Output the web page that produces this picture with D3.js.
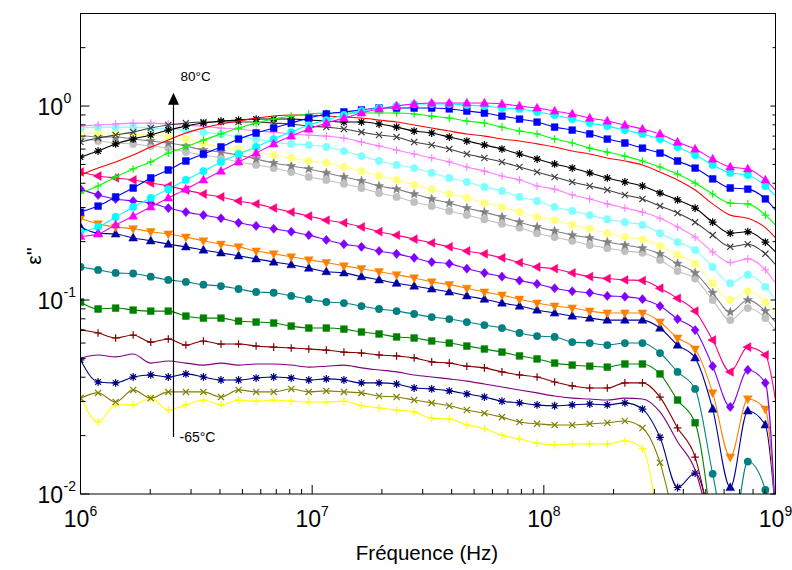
<!DOCTYPE html>
<html><head><meta charset="utf-8">
<script src="https://cdn.jsdelivr.net/npm/d3@7"></script>
<style>body{margin:0;background:#fff}svg{display:block}text{font-family:"Liberation Sans",Arial,sans-serif;fill:#000}</style>
</head><body><svg id="c" width="792" height="570"></svg>
<script>
// Frequencies in MHz (markers on the first 40 points, last point = 1 GHz)
const freqMHz = [1.000,1.191,1.418,1.688,2.010,2.393,2.850,3.393,4.040,4.811,5.728,6.821,8.121,9.670,11.51,13.71,16.32,19.44,23.14,27.56,32.81,39.07,46.52,55.39,65.96,78.52,93.50,111.3,132.6,157.8,187.9,223.8,266.5,317.3,377.8,449.8,535.6,637.7,759.3,904.1,1000];

const tMagenta = [0.213,0.219,0.244,0.271,0.302,0.336,0.373,0.416,0.462,0.515,0.572,0.638,0.700,0.761,0.817,0.867,0.921,0.966,1.000,1.024,1.036,1.036,1.036,1.036,1.024,1.000,0.977,0.943,0.910,0.867,0.837,0.798,0.761,0.718,0.652,0.600,0.533,0.485,0.474,0.416,0.369];
const tCyan = [0.225,0.238,0.268,0.302,0.336,0.373,0.416,0.462,0.515,0.566,0.615,0.676,0.734,0.798,0.847,0.899,0.943,0.977,1.000,1.024,1.024,1.024,1.012,1.000,0.977,0.966,0.932,0.899,0.857,0.817,0.788,0.752,0.718,0.676,0.615,0.559,0.497,0.452,0.441,0.387,0.344];
const tBlue = [0.284,0.305,0.340,0.378,0.426,0.468,0.521,0.566,0.615,0.676,0.726,0.770,0.817,0.867,0.910,0.932,0.954,0.977,0.977,0.977,0.977,0.966,0.943,0.921,0.888,0.857,0.827,0.779,0.752,0.718,0.676,0.645,0.607,0.572,0.521,0.479,0.421,0.378,0.373,0.332,0.291];
const tGreen = [0.356,0.387,0.431,0.474,0.515,0.572,0.615,0.668,0.718,0.770,0.817,0.857,0.888,0.910,0.921,0.921,0.921,0.921,0.921,0.910,0.888,0.867,0.837,0.817,0.779,0.743,0.718,0.676,0.645,0.607,0.579,0.552,0.521,0.485,0.446,0.401,0.352,0.316,0.313,0.274,0.244];
const tRed = [0.441,0.479,0.515,0.559,0.615,0.668,0.726,0.770,0.808,0.837,0.867,0.888,0.899,0.899,0.888,0.878,0.867,0.847,0.827,0.798,0.770,0.743,0.718,0.700,0.676,0.660,0.638,0.615,0.586,0.566,0.540,0.521,0.497,0.457,0.416,0.369,0.313,0.274,0.264,0.236,0.209];
const tBlack = [0.546,0.586,0.638,0.676,0.709,0.752,0.788,0.817,0.837,0.847,0.857,0.857,0.857,0.847,0.837,0.827,0.827,0.808,0.779,0.743,0.726,0.692,0.660,0.630,0.600,0.566,0.533,0.503,0.479,0.452,0.426,0.406,0.387,0.356,0.328,0.298,0.252,0.221,0.225,0.199,0.177];
const tDarkGray = [0.652,0.684,0.709,0.734,0.770,0.798,0.817,0.827,0.827,0.827,0.827,0.817,0.808,0.788,0.779,0.761,0.734,0.709,0.692,0.652,0.630,0.600,0.566,0.540,0.515,0.485,0.457,0.431,0.406,0.387,0.369,0.348,0.332,0.305,0.281,0.252,0.216,0.188,0.194,0.173,0.152];
const tPink = [0.788,0.798,0.808,0.817,0.817,0.808,0.798,0.788,0.770,0.761,0.743,0.734,0.718,0.709,0.700,0.684,0.652,0.622,0.593,0.566,0.540,0.515,0.485,0.462,0.436,0.416,0.387,0.373,0.348,0.332,0.313,0.298,0.284,0.264,0.238,0.211,0.177,0.156,0.163,0.143,0.122];
const tLightCyan = [0.770,0.779,0.779,0.779,0.770,0.761,0.752,0.734,0.718,0.692,0.676,0.652,0.638,0.630,0.615,0.586,0.552,0.521,0.497,0.479,0.452,0.426,0.406,0.383,0.365,0.340,0.324,0.302,0.288,0.274,0.261,0.252,0.244,0.221,0.199,0.181,0.148,0.122,0.135,0.117,0.100];
const tLightYellow = [0.718,0.726,0.726,0.718,0.709,0.692,0.676,0.645,0.615,0.600,0.579,0.559,0.540,0.521,0.509,0.485,0.462,0.436,0.416,0.392,0.373,0.352,0.336,0.316,0.302,0.284,0.268,0.258,0.244,0.233,0.221,0.211,0.206,0.190,0.171,0.154,0.122,0.100,0.111,0.0977,0.0837];
const tGray = [0.709,0.692,0.692,0.676,0.660,0.645,0.622,0.593,0.579,0.559,0.533,0.509,0.491,0.474,0.452,0.431,0.411,0.387,0.373,0.352,0.332,0.316,0.298,0.284,0.268,0.252,0.238,0.227,0.216,0.209,0.199,0.192,0.185,0.173,0.154,0.138,0.109,0.0867,0.100,0.0877,0.0770];
const tLightGray = [0.684,0.660,0.645,0.638,0.622,0.607,0.579,0.559,0.540,0.515,0.497,0.479,0.457,0.431,0.416,0.397,0.378,0.356,0.340,0.320,0.305,0.288,0.274,0.261,0.247,0.236,0.221,0.211,0.202,0.192,0.185,0.179,0.175,0.161,0.141,0.129,0.100,0.0788,0.0909,0.0807,0.0700];
const tDeepPink = [0.457,0.436,0.426,0.416,0.401,0.387,0.369,0.352,0.340,0.324,0.313,0.298,0.284,0.271,0.258,0.250,0.238,0.225,0.216,0.206,0.197,0.188,0.179,0.173,0.165,0.156,0.148,0.145,0.138,0.132,0.129,0.127,0.126,0.115,0.102,0.0877,0.0622,0.0426,0.0572,0.0521,0.0305];
const tViolet = [0.373,0.348,0.332,0.324,0.316,0.298,0.284,0.274,0.264,0.250,0.241,0.233,0.225,0.216,0.204,0.194,0.188,0.179,0.173,0.165,0.157,0.154,0.145,0.138,0.132,0.126,0.121,0.115,0.111,0.109,0.105,0.104,0.101,0.0931,0.0798,0.0700,0.0456,0.0281,0.0436,0.0374,0.008];
const tOrange = [0.264,0.247,0.238,0.233,0.225,0.219,0.211,0.202,0.194,0.188,0.179,0.173,0.167,0.161,0.156,0.150,0.145,0.140,0.135,0.130,0.124,0.120,0.115,0.110,0.106,0.101,0.0965,0.0931,0.0909,0.0877,0.0857,0.0857,0.0857,0.0770,0.0637,0.0559,0.0332,0.0155,0.0309,0.0274,0.008];
const tNavy = [0.238,0.221,0.219,0.209,0.202,0.194,0.188,0.181,0.175,0.169,0.163,0.157,0.152,0.146,0.140,0.138,0.132,0.127,0.122,0.118,0.114,0.110,0.105,0.101,0.0965,0.0931,0.0888,0.0857,0.0827,0.0807,0.0788,0.0788,0.0788,0.0717,0.0586,0.0503,0.0274,0.0108,0.0268,0.0227,0.008];
const tTeal = [0.148,0.143,0.138,0.137,0.132,0.127,0.124,0.120,0.118,0.114,0.110,0.109,0.105,0.101,0.0977,0.0965,0.0931,0.0899,0.0877,0.0847,0.0817,0.0798,0.0770,0.0743,0.0717,0.0676,0.0652,0.0645,0.0607,0.0600,0.0586,0.0600,0.0600,0.0533,0.0426,0.0348,0.0127,0.005,0.0147,0.0105,0.005];
const tDarkGreen = [0.0977,0.0899,0.0909,0.0888,0.0877,0.0877,0.0827,0.0807,0.0807,0.0779,0.0770,0.0761,0.0734,0.0717,0.0717,0.0708,0.0684,0.0668,0.0645,0.0637,0.0615,0.0600,0.0579,0.0559,0.0539,0.0515,0.0497,0.0473,0.0462,0.0456,0.0451,0.0468,0.0468,0.0416,0.0305,0.0233,0.006];
const tDarkRed = [0.0700,0.0676,0.0637,0.0660,0.0607,0.0630,0.0586,0.0615,0.0593,0.0593,0.0579,0.0572,0.0566,0.0559,0.0552,0.0539,0.0533,0.0521,0.0515,0.0503,0.0480,0.0473,0.0456,0.0447,0.0426,0.0411,0.0401,0.0378,0.0361,0.0352,0.0352,0.0374,0.0374,0.0316,0.0219,0.0155,0.006];
const tPurple = [0.0503,0.0521,0.0509,0.0527,0.0473,0.0485,0.0473,0.0462,0.0473,0.0462,0.0468,0.0468,0.0462,0.0451,0.0456,0.0462,0.0447,0.0436,0.0426,0.0411,0.0401,0.0392,0.0382,0.0369,0.0356,0.0344,0.0332,0.0320,0.0312,0.0309,0.0305,0.0312,0.0309,0.0265,0.0186,0.0133,0.006];
const tNavyStar = [0.0491,0.0378,0.0374,0.0401,0.0411,0.0401,0.0416,0.0401,0.0387,0.0387,0.0396,0.0401,0.0396,0.0387,0.0392,0.0387,0.0374,0.0374,0.0369,0.0352,0.0348,0.0340,0.0328,0.0316,0.0301,0.0295,0.0288,0.0285,0.0288,0.0291,0.0288,0.0295,0.0274,0.0196,0.0108,0.0128,0.006];
const tOlive = [0.0312,0.0332,0.0298,0.0344,0.0312,0.0336,0.0336,0.0336,0.0316,0.0344,0.0336,0.0336,0.0348,0.0336,0.0340,0.0336,0.0332,0.0320,0.0316,0.0305,0.0295,0.0285,0.0271,0.0261,0.0249,0.0235,0.0230,0.0227,0.0227,0.0230,0.0233,0.0238,0.0219,0.0145,0.006];
const tYellow = [0.0320,0.0235,0.0288,0.0288,0.0312,0.0271,0.0288,0.0305,0.0288,0.0305,0.0301,0.0305,0.0301,0.0298,0.0298,0.0301,0.0285,0.0278,0.0271,0.0265,0.0246,0.0244,0.0227,0.0217,0.0201,0.0192,0.0183,0.0179,0.0181,0.0181,0.0181,0.0188,0.0171,0.006];

const xTickExps = [6,7,8,9];
const yTickExps = [-2,-1,0];
const xTitle = "Fréquence (Hz)";
const yTitle = "ε''";
const labelHigh = "80°C", labelLow = "-65°C";

// Drawing order (low temperature first)
const series = [
  {v:tYellow, color:"#ffff00", m:"plus"},
  {v:tOlive, color:"#808000", m:"cross"},
  {v:tNavyStar, color:"#000080", m:"aster"},
  {v:tPurple, color:"#800080", m:null},
  {v:tDarkRed, color:"#800000", m:"plus"},
  {v:tDarkGreen, color:"#008000", m:"square"},
  {v:tTeal, color:"#008080", m:"circle"},
  {v:tNavy, color:"#0000a0", m:"triUp"},
  {v:tOrange, color:"#ff8000", m:"triDown"},
  {v:tViolet, color:"#8000ff", m:"diamond"},
  {v:tDeepPink, color:"#ff0080", m:"triLeft"},
  {v:tLightGray, color:"#c0c0c0", m:"circle"},
  {v:tGray, color:"#808080", m:"star"},
  {v:tLightYellow, color:"#ffff80", m:"circle"},
  {v:tLightCyan, color:"#80ffff", m:"circle"},
  {v:tPink, color:"#ff80ff", m:"plus"},
  {v:tDarkGray, color:"#404040", m:"cross"},
  {v:tBlack, color:"#000000", m:"aster"},
  {v:tRed, color:"#ff0000", m:null},
  {v:tGreen, color:"#00ff00", m:"plus"},
  {v:tBlue, color:"#0000ff", m:"square"},
  {v:tCyan, color:"#00ffff", m:"circle"},
  {v:tMagenta, color:"#ff00ff", m:"triUp"}
];

const svg = d3.select("#c");
const L = 80.5, R = 775.5, T = 13.5, B = 494;
const x = d3.scaleLog().domain([1e6,1e9]).range([L,R]);
const y = d3.scaleLog().domain([0.01,3]).range([B,T]);

svg.append("clipPath").attr("id","clip").append("rect")
  .attr("x",L).attr("y",T).attr("width",R-L).attr("height",B-T);

const plot = svg.append("g").attr("clip-path","url(#clip)");
const line = d3.line().x(d=>x(d.f)).y(d=>y(d.v)).curve(d3.curveMonotoneX);

const shapes = {
  triUp:   {d:"M0,-4.8L4.4,3.1L-4.4,3.1Z", fill:true},
  triDown: {d:"M0,4.8L4.4,-3.1L-4.4,-3.1Z", fill:true},
  triLeft: {d:"M-4.8,0L3.1,-4.4L3.1,4.4Z", fill:true},
  square:  {d:"M-3.4,-3.4H3.4V3.4H-3.4Z", fill:true},
  diamond: {d:"M0,-4.6L4,0L0,4.6L-4,0Z", fill:true},
  plus:    {d:"M-3.8,0H3.8M0,-3.8V3.8", fill:false},
  cross:   {d:"M-3.1,-3.1L3.1,3.1M-3.1,3.1L3.1,-3.1", fill:false},
  aster:   {d:"M-3.9,0H3.9M0,-3.9V3.9M-2.8,-2.8L2.8,2.8M-2.8,2.8L2.8,-2.8", fill:false},
  star:    {d:(()=>{let p=[];for(let i=0;i<10;i++){const r=i%2?2:4.8,a=-Math.PI/2+i*Math.PI/5;p.push([r*Math.cos(a),r*Math.sin(a)]);}return "M"+p.map(q=>q[0].toFixed(2)+","+q[1].toFixed(2)).join("L")+"Z";})(), fill:true}
};

series.forEach(s=>{
  const pts = s.v.map((v,i)=>({f:freqMHz[i]*1e6, v:v, i:i}));
  const g = plot.append("g");
  g.append("path").attr("d", line(pts)).attr("fill","none")
    .attr("stroke", s.color).attr("stroke-width",1.1);
  if (s.m) {
    const sh = shapes[s.m];
    pts.filter(p=>p.i<40).forEach(p=>{
      const px = x(p.f), py = y(p.v);
      if (s.m==="circle") {
        g.append("circle").attr("cx",px).attr("cy",py).attr("r",3.9).attr("fill",s.color);
      } else {
        g.append("path").attr("d", sh.d).attr("transform",`translate(${px},${py})`)
          .attr("fill", sh.fill ? s.color : "none")
          .attr("stroke", s.color).attr("stroke-width", sh.fill ? 0.5 : 1.2);
      }
    });
  }
});

// Frame
const ax = svg.append("g").attr("stroke","#000").attr("fill","none");
ax.append("rect").attr("x",L).attr("y",T).attr("width",R-L).attr("height",B-T).attr("stroke-width",1);

// X ticks (inward, bottom)
const xMinor = [];
xTickExps.slice(0,-1).forEach(e=>{for(let k=2;k<=9;k++) xMinor.push(k*Math.pow(10,e));});
xTickExps.forEach(e=>{
  const px = x(Math.pow(10,e));
  ax.append("line").attr("x1",px).attr("x2",px).attr("y1",B).attr("y2",B-9);
});
xMinor.forEach(v=>{
  const px = x(v);
  ax.append("line").attr("x1",px).attr("x2",px).attr("y1",B).attr("y2",B-5);
});
// Y ticks (inward, left and right)
const yMinor = [];
yTickExps.forEach(e=>{for(let k=2;k<=9;k++){const v=k*Math.pow(10,e); if(v<=3) yMinor.push(v);}});
yTickExps.forEach(e=>{
  const py = y(Math.pow(10,e));
  ax.append("line").attr("x1",L).attr("x2",L+9).attr("y1",py).attr("y2",py);
  ax.append("line").attr("x1",R).attr("x2",R-5).attr("y1",py).attr("y2",py);
});
yMinor.forEach(v=>{
  const py = y(v);
  ax.append("line").attr("x1",L).attr("x2",L+5).attr("y1",py).attr("y2",py);
  ax.append("line").attr("x1",R).attr("x2",R-3).attr("y1",py).attr("y2",py);
});

// Tick labels
const lab = svg.append("g");
xTickExps.forEach(e=>{
  const px = x(Math.pow(10,e));
  const t = lab.append("text").attr("x",px).attr("y",527).attr("text-anchor","middle")
    .style("font-size","23px");
  t.append("tspan").text("10");
  t.append("tspan").attr("dy",-11).style("font-size","14px").text(String(e));
});
yTickExps.forEach(e=>{
  const py = y(Math.pow(10,e));
  lab.append("text").attr("x",63).attr("y",py+9).attr("text-anchor","end")
    .style("font-size","23px").text("10");
  lab.append("text").attr("x",63.5).attr("y",py-3).attr("text-anchor","start")
    .style("font-size","14px").text(e===0?"0":"-"+Math.abs(e));
});

// Axis titles
lab.append("text").attr("x",(L+R)/2 - 1).attr("y",560).attr("text-anchor","middle")
  .style("font-size","20.5px").text(xTitle);
lab.append("text").attr("transform","translate(41,256) rotate(-90)").attr("text-anchor","middle")
  .style("font-size","21px").text(yTitle);

// Temperature arrow annotation
const arrowF = 2.52e6, arrowLow = 0.0197, arrowHigh = 1.17;
const axp = x(arrowF);
svg.append("line").attr("x1",axp).attr("x2",axp).attr("y1",y(arrowLow)).attr("y2",y(arrowHigh)+10)
  .attr("stroke","#000").attr("stroke-width",1.2);
svg.append("path").attr("d",`M${axp},${y(arrowHigh)}l5.5,12h-11z`).attr("fill","#000");
lab.append("text").attr("x",axp+7).attr("y",y(arrowHigh)-12).style("font-size","13.5px").text(labelHigh);
lab.append("text").attr("x",axp+6).attr("y",y(arrowLow)+5).style("font-size","14px").text(labelLow);
</script></body></html>
